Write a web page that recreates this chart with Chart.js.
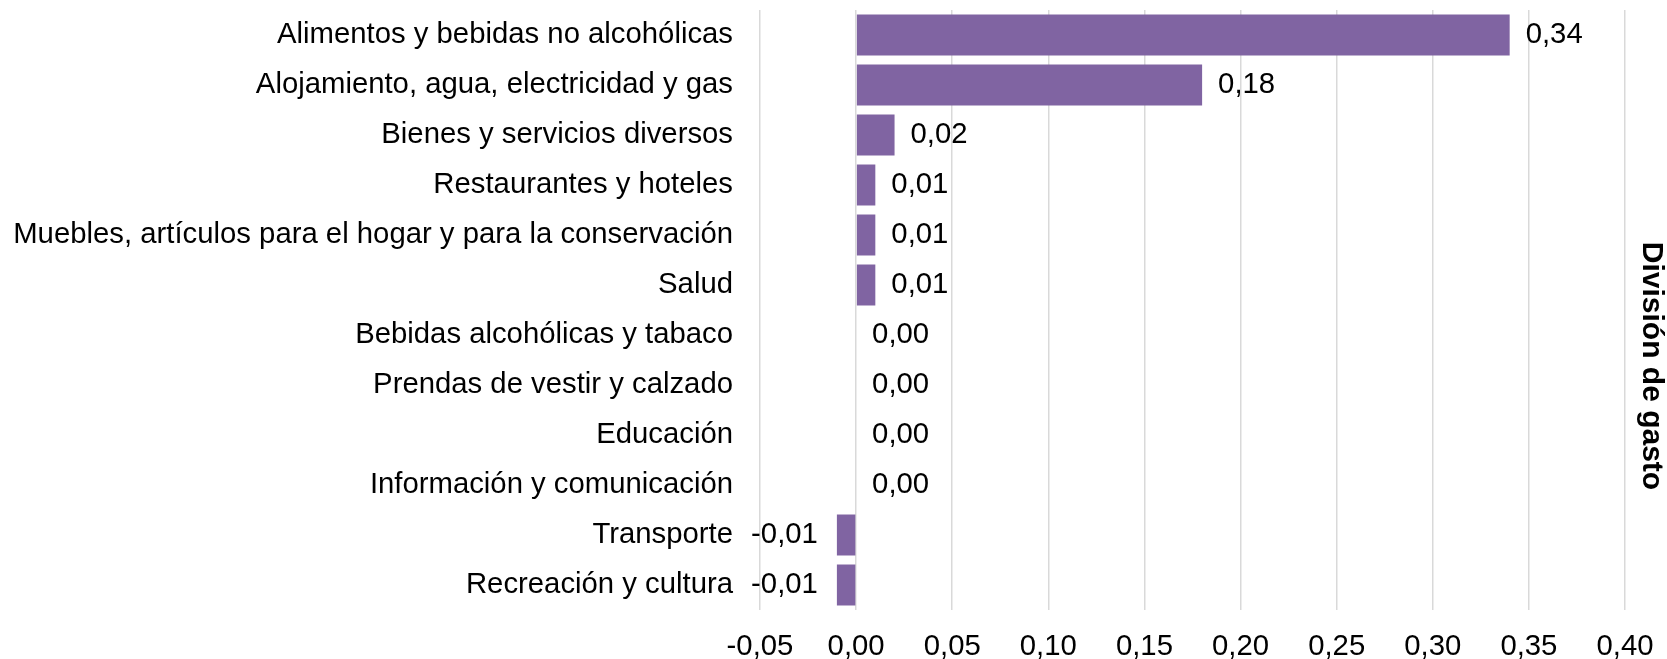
<!DOCTYPE html>
<html>
<head>
<meta charset="utf-8">
<script src="https://cdn.jsdelivr.net/npm/chart.js@4/dist/chart.umd.min.js"></script>
<style>
    html, body { margin: 0; padding: 0; background: #ffffff; }
    #wrap { width: 1667px; height: 659px; }
</style>
</head>
<body>
<div id="wrap"><canvas id="breakdownChart" width="1667" height="659"></canvas></div>
<script>
// chart data
let divisionNames = [
    "Alimentos y bebidas no alcohólicas",
    "Alojamiento, agua, electricidad y gas",
    "Bienes y servicios diversos",
    "Restaurantes y hoteles",
    "Muebles, artículos para el hogar y para la conservación",
    "Salud",
    "Bebidas alcohólicas y tabaco",
    "Prendas de vestir y calzado",
    "Educación",
    "Información y comunicación",
    "Transporte",
    "Recreación y cultura"
];
let contributions = [0.34, 0.18, 0.02, 0.01, 0.01, 0.01, 0.00, 0.00, 0.00, 0.00, -0.01, -0.01];
let axisTitle = "División de gasto";
let tickMin = -0.05;
let tickMax = 0.40;
let tickStep = 0.05;

let barColor = "#8064A2";
let fontFamily = "'Liberation Sans', Arial, sans-serif";

window.formatComma = function(value) {   // 0.05 -> "0,05"
    return Number(value).toFixed(2).replace(".", ",");
}

window.valueLabels = {     // draws the value next to each bar
    id: "valueLabels",
    afterDatasetsDraw: function(chart) {
        let ctx = chart.ctx;
        let meta = chart.getDatasetMeta(0);
        ctx.save();
        ctx.font = "29.3px " + fontFamily;
        ctx.fillStyle = "#000000";
        ctx.textBaseline = "middle";
        meta.data.forEach(function(bar, i) {
            let v = chart.data.datasets[0].data[i];
            if (v < 0) {
                ctx.textAlign = "right";
                ctx.fillText(formatComma(v), bar.x - 19, bar.y);
            } else {
                ctx.textAlign = "left";
                ctx.fillText(formatComma(v), bar.x + 16, bar.y);
            }
        });
        ctx.restore();
    }
}

window.sideTitle = {     // vertical title on the right, reads top to bottom
    id: "sideTitle",
    afterDraw: function(chart) {
        let ctx = chart.ctx;
        ctx.save();
        ctx.translate(chart.chartArea.right + 26, 366);
        ctx.rotate(Math.PI / 2);
        ctx.font = "bold 30px " + fontFamily;
        ctx.fillStyle = "#000000";
        ctx.textAlign = "center";
        ctx.textBaseline = "middle";
        ctx.fillText(axisTitle, 0, 0);
        ctx.restore();
    }
}

window.initializeChart = function(ctx) {     // Initializes the chart
    let breakdownChart = new Chart(ctx, {
        type: "bar",
        data: {
            labels: divisionNames,
            datasets: [{
                label: axisTitle,
                data: contributions,
                backgroundColor: barColor,
                borderWidth: 0,
                barPercentage: 0.82,
                categoryPercentage: 1.0
            }]
        },
        options: {
            indexAxis: "y",
            responsive: false,
            animation: false,
            layout: { padding: { left: 10, right: 42, top: 10, bottom: 0 } },
            plugins: {
                legend: { display: false },
                tooltip: { enabled: false }
            },
            scales: {
                x: {
                    type: "linear",
                    min: tickMin,
                    max: tickMax,
                    ticks: {
                        stepSize: tickStep,
                        padding: 19,
                        color: "#000000",
                        font: { family: fontFamily, size: 29.3 },
                        maxRotation: 0,
                        callback: function(value) { return formatComma(value); }
                    },
                    grid: { color: "#D9D9D9", lineWidth: 1.5, drawTicks: false },
                    border: { display: false },
                    afterFit: function(scale) {
                        scale.height = 49;
                        scale.paddingLeft = 0;
                        scale.paddingRight = 0;
                    }
                },
                y: {
                    type: "category",
                    ticks: {
                        padding: 27,
                        color: "#000000",
                        font: { family: fontFamily, size: 29.3 },
                        autoSkip: false
                    },
                    grid: { display: false, drawTicks: false },
                    border: { display: false },
                    afterFit: function(scale) {
                        scale.width = 750;
                        scale.paddingTop = 0;    // no room for half a label above/below
                        scale.paddingBottom = 0;
                    }
                }
            }
        },
        plugins: [valueLabels, sideTitle]
    });

    return breakdownChart;
}

initializeChart(document.getElementById("breakdownChart").getContext("2d"));
</script>
</body>
</html>
